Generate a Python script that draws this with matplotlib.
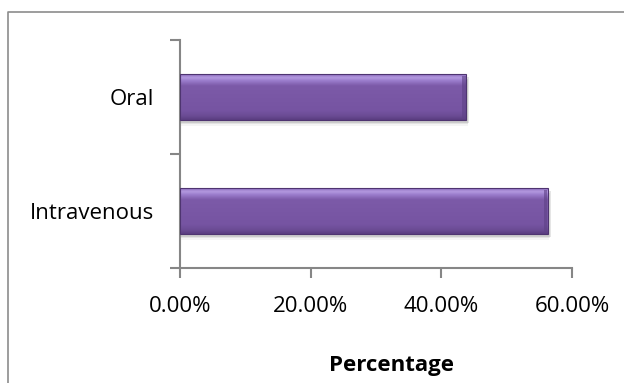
import numpy as np
import matplotlib.pyplot as plt
from matplotlib.patches import Rectangle
from matplotlib.lines import Line2D
from matplotlib.colors import LinearSegmentedColormap

plt.rcParams['font.family'] = ['Open Sans', 'DejaVu Sans']

categories = ["Intravenous", "Oral"]
percentages = [56.25, 43.75]
x_ticks = [0, 20, 40, 60]
x_tick_labels = ["0.00%", "20.00%", "40.00%", "60.00%"]

axis_grey = "#868686"
bar_height = 0.4
W, H = 624, 383

fig = plt.figure(figsize=(W / 100, H / 100), dpi=100)
ax = fig.add_axes([180 / W, 1 - 268 / H, (572 - 180) / W, (268 - 40) / H])

# vertical shading for the bevelled bars: light rim on top, darker rim below
bevel = LinearSegmentedColormap.from_list(
    "bevel",
    [(0.0, "#5a3d80"), (0.08, "#6a4b93"), (0.2, "#7654a2"),
     (0.75, "#7c5aa8"), (0.86, "#9a7ccc"), (0.93, "#b49ae0"), (1.0, "#8d6dbd")])
grad = np.linspace(0, 1, 100).reshape(-1, 1)

for i, (cat, val) in enumerate(zip(categories, percentages)):
    y0 = i - bar_height / 2
    # soft shadow under the bar
    for k, a in enumerate([0.10, 0.07, 0.04]):
        off = 0.025 + k * 0.015
        ax.add_patch(Rectangle((0.2, y0 - off), val + 0.3 - k * 0.1, bar_height,
                               facecolor="#000000", alpha=a, lw=0, zorder=1))
    body = Rectangle((0, y0), val, bar_height, facecolor="none",
                     edgecolor="#4e3470", lw=0.8, zorder=3)
    ax.add_patch(body)
    im = ax.imshow(grad, cmap=bevel, aspect="auto", origin="lower",
                   extent=(0, val, y0, y0 + bar_height), zorder=2,
                   interpolation="bicubic")
    im.set_clip_path(body)
    # darker right edge of the bevel
    ax.add_patch(Rectangle((val - 0.6, y0 + 0.02), 0.6, bar_height - 0.04,
                           facecolor="#5e4186", alpha=0.6, lw=0, zorder=2.5))

ax.set_xlim(0, 60)
ax.set_ylim(-0.5, 1.5)

ax.set_xticks(x_ticks)
ax.set_xticklabels(x_tick_labels, fontsize=16)
ax.set_yticks(range(len(categories)))
ax.set_yticklabels(categories, fontsize=16)
ax.set_yticks([-0.5, 0.5, 1.5], minor=True)

ax.tick_params(axis="x", direction="out", length=7, width=1.5, color=axis_grey, pad=13.5)
ax.tick_params(axis="y", which="major", length=0, pad=18.5)
ax.tick_params(axis="y", which="minor", direction="out", length=7, width=1.5, color=axis_grey)

for side in ["top", "right"]:
    ax.spines[side].set_visible(False)
for side in ["left", "bottom"]:
    ax.spines[side].set_color(axis_grey)
    ax.spines[side].set_linewidth(1.5)

# axis title sits centred on the whole plot area, not just the axis line
fig.text(391.5 / W, 1 - 371 / H, "Percentage", fontsize=16, fontweight="bold",
         ha="center", va="baseline")

# chart area border, cut off at the right and bottom
fig.add_artist(Line2D([8 / W, 8 / W, 1.0], [0.0, 1 - 12 / H, 1 - 12 / H],
                      color="#8c8c8c", lw=1.2, transform=fig.transFigure))

fig.savefig("out.png", dpi=100)
